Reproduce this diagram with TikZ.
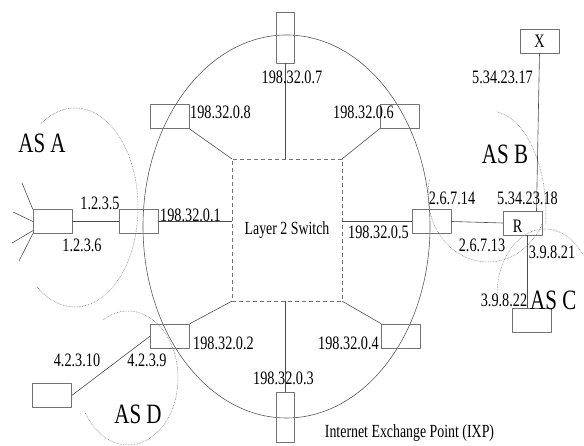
\documentclass[tikz,border=0pt]{standalone}
\usepackage{fontspec}
\setmainfont{Liberation Serif}[FakeStretch=0.75]
\usepackage{tikz}
\usetikzlibrary{calc}

\begin{document}
\begin{tikzpicture}[x=1pt,y=1pt,line join=round,
    port/.style={draw=black!55,minimum width=39pt,minimum height=24pt,inner sep=0pt,font=\fontsize{19}{20}\selectfont},
    vport/.style={port,minimum width=18pt,minimum height=51pt},
    wire/.style={draw=black!70,line width=0.6pt},
    asline/.style={draw=black!55,line width=0.5pt,dash pattern=on 0.7pt off 0.9pt},
    ip/.style={inner sep=0pt,font=\fontsize{19}{20}\selectfont},
    asname/.style={inner sep=0pt,font=\fontsize{28}{30}\selectfont}]
  \useasboundingbox (0,0) rectangle (584,446);
  % the exchange point and its switch
  \draw[black!65,line width=0.6pt] (286.5,219.5) ellipse [x radius=143.5,y radius=191.5];
  \node[draw=black!55,dash pattern=on 4pt off 3pt,minimum width=110pt,minimum height=142pt,
        inner sep=0pt,font=\fontsize{18.5}{20}\selectfont] (sw) at (287,216) {Layer 2 Switch};
  \node[vport] (p7) at (285,408.5) {};
  \node[port] (p8) at (169.5,329.5) {};
  \node[port] (p6) at (400,330) {};
  \node[port] (p1) at (138.5,224.5) {};
  \node[port] (p5) at (431.5,224.5) {};
  \node[port] (p2) at (170,110) {};
  \node[port] (p4) at (401,110) {};
  \node[vport,minimum height=50pt] (p3) at (285,29) {};
  % routers outside
  \node[port] (ra) at (52.5,224.5) {};
  \node[port,label={[ip,xshift=-5pt,yshift=-3pt]center:R}] (r) at (522.5,223) {};
  \node[port] (rx) at (539.5,405) {X};
  \node[port] (rc) at (532,125.5) {};
  \node[port] (rd) at (52,50.5) {};
  \coordinate (s1) at (22,263);
  \coordinate (s2) at (13,234);
  \coordinate (s3) at (12,203);
  \coordinate (s4) at (19,185);
  % links
  \draw[wire] (p8.south east) -- (sw.north west);
  \draw[wire] (p7.south) -- (p7.south |- sw.north);
  \draw[wire] (p6.south west) -- (sw.north east);
  \draw[wire] (p1.east) -- (p1.east -| sw.west);
  \draw[wire] (p5.west) -- (p5.west -| sw.east);
  \draw[wire] (p2.north east) -- (sw.south west);
  \draw[wire] (p4.north west) -- (sw.south east);
  \draw[wire] (p3.north) -- (p3.north |- sw.south);
  \draw[wire] (ra.east) -- (p1.west);
  \draw[wire] (p5.east) -- (r.west);
  \draw[wire] (rx.south) -- ([xshift=14pt]r.north);
  \draw[wire] ([xshift=4.5pt]r.south) -- ([xshift=-5pt]rc.north);
  \draw[wire] (rd.east) -- (p2.west);
  \draw[wire] (ra.north west) -- (s1);
  \draw[wire] (ra.west) -- (s2);
  \draw[wire] ([yshift=3pt]ra.south west) -- (s3);
  \draw[wire] (ra.south west) -- (s4);
  % AS borders
  \coordinate (cA) at (75,238.5);
  \coordinate (cB) at (490,231);
  \coordinate (cBR) at (488,251);
  \coordinate (cC) at (545,151);
  \coordinate (cD) at (128,68);
  \draw[asline] (cA) ++(123:63 and 99.5) arc[start angle=123,end angle=-127,x radius=63,y radius=99.5];
  \draw[asline] (cB) ++(83:56 and 104) arc[start angle=83,end angle=-5,x radius=56,y radius=104];
  \draw[asline] (cBR) ++(167:60 and 67) arc[start angle=167,end angle=335,x radius=60,y radius=67];
  \draw[asline] (cC) ++(185:48 and 66) arc[start angle=185,end angle=37,x radius=48,y radius=66];
  \draw[asline] (cD) ++(120:50 and 67) arc[start angle=120,end angle=-150,x radius=50,y radius=67];
  % addresses
  \node[ip] at (292,369) {198.32.0.7};
  \node[ip,anchor=west] at (190,334) {198.32.0.8};
  \node[ip,anchor=west] at (333,334) {198.32.0.6};
  \node[ip,anchor=west] at (160,231) {198.32.0.1};
  \node[ip,anchor=west] at (348,214) {198.32.0.5};
  \node[ip,anchor=west] at (193,103) {198.32.0.2};
  \node[ip,anchor=east] at (379,103) {198.32.0.4};
  \node[ip] at (283.5,68) {198.32.0.3};
  \node[ip] at (100,243) {1.2.3.5};
  \node[ip] at (82,201) {1.2.3.6};
  \node[ip] at (452,248) {2.6.7.14};
  \node[ip] at (527.5,248) {5.34.23.18};
  \node[ip] at (482,201) {2.6.7.13};
  \node[ip] at (552,194) {3.9.8.21};
  \node[ip] at (504,146) {3.9.8.22};
  \node[ip] at (502.5,369) {5.34.23.17};
  \node[ip] at (77,86) {4.2.3.10};
  \node[ip] at (147,86) {4.2.3.9};
  \node[asname] at (42,303) {AS A};
  \node[asname] at (505,292) {AS B};
  \node[asname,anchor=west] at (530,146) {AS C};
  \node[asname] at (138,32) {AS D};
  \node[ip,font=\fontsize{18.5}{20}\selectfont] at (409.5,13) {Internet Exchange Point (IXP)};
\end{tikzpicture}
\end{document}
